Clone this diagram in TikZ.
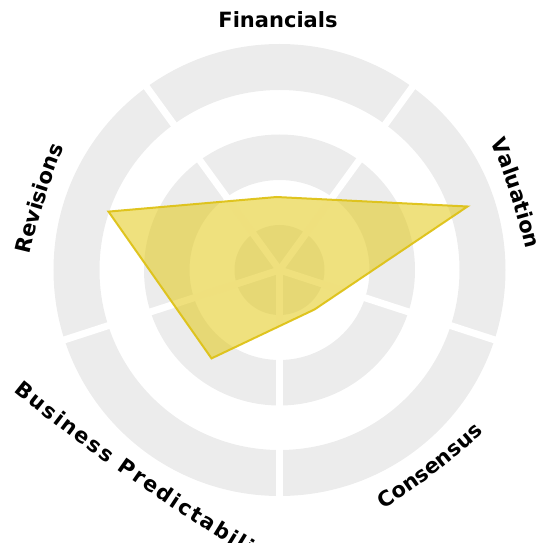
\documentclass[tikz,border=0pt]{standalone}
\usepackage{fontspec}
\setmainfont{DejaVu Sans}
\newfontfamily\lblfamily{DejaVu Sans}
\usetikzlibrary{decorations.text}
\definecolor{ringgray}{RGB}{236,236,236}
\definecolor{polyfill}{RGB}{226,200,20}
\definecolor{polyedge}{RGB}{222,194,24}
\newcommand\labfont{\lblfamily\bfseries\fontsize{21}{25}\selectfont}
\tikzset{
  ringband/.style={fill=ringgray, even odd rule},
  gapline/.style={draw=white, line width=7pt},
  radar/.style={fill=polyfill, fill opacity=0.55, draw=polyedge, draw opacity=0.95, line width=2pt},
}
\begin{document}
\begin{tikzpicture}[x=1pt,y=1pt]
\useasboundingbox (-279.5,-273) rectangle (255.5,270);
\clip (-279.5,-273) rectangle (255.5,270);
\coordinate (O) at (0,0);
% rings
\path[ringband] (O) circle[radius=226pt] circle[radius=180pt];
\path[ringband] (O) circle[radius=135.5pt] circle[radius=90pt];
\fill[ringgray] (O) circle[radius=45pt];
% gaps
\foreach \a in {54,-18,-90,-162,126} \path[gapline] (O) -- (\a:240);
% radar polygon
\coordinate (F) at (-3,73);
\coordinate (V) at (188,63.5);
\coordinate (C) at (35,-39.5);
\coordinate (B) at (-68,-88.4);
\coordinate (R) at (-171,58.4);
\path[radar] (F) -- (V) -- (C) -- (B) -- (R) -- cycle;
% labels
\node[font=\labfont, anchor=base, inner sep=0pt] (fin) at (-1.5,242) {Financials};
\begin{scope}[shift={(198:457)}]
\path[decorate, decoration={text along path, text align=center, text={|\labfont|Valuation}}]
  (28:700) arc[start angle=28, end angle=8, radius=700pt];
\end{scope}
\begin{scope}[shift={(-18:455)}]
\path[decorate, decoration={text along path, text align=center, text={|\labfont|Revisions}}]
  (172.5:700) arc[start angle=172.5, end angle=152.5, radius=700pt];
\end{scope}
\begin{scope}[shift={(127.5:444)}]
\path[decorate, decoration={text along path, text align=center, text={|\labfont|Consensus}}]
  (-64.5:700) arc[start angle=-64.5, end angle=-40.5, radius=700pt];
\end{scope}
\coordinate (bpstart) at (-266,-121.5);
\path[decorate, decoration={text along path, text align=fit to path, text={|\labfont|Business Predictability}}]
  (bpstart) arc[start angle=-129, delta angle=9.0, radius=2000pt];
\end{tikzpicture}
\end{document}
